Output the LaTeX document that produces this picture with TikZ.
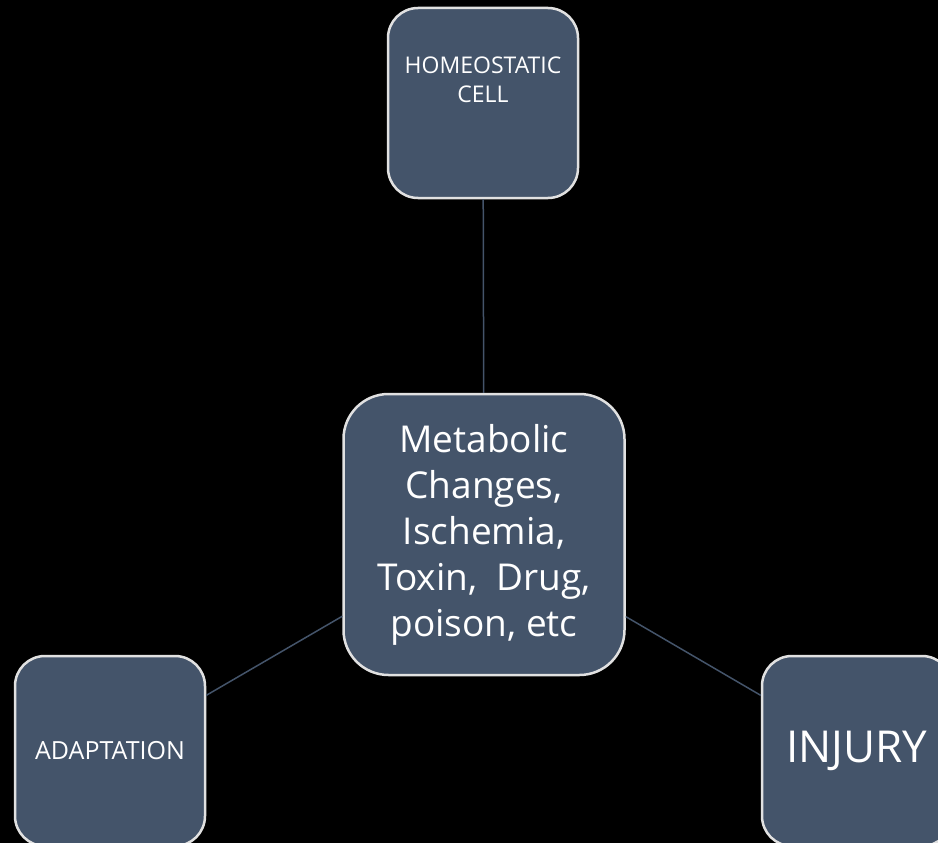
\documentclass[tikz,border=0pt]{standalone}
\usepackage{fontspec}
\setmainfont{Open Sans}
\usepackage{xcolor}
\definecolor{slateblue}{RGB}{68,84,106}
\definecolor{rimgray}{RGB}{225,225,225}

\begin{document}
\begin{tikzpicture}[x=1pt,y=-1pt]
			\tikzstyle{cellbox} = [rectangle,rounded corners=30pt,fill=slateblue,draw=rimgray,line width=2.5pt,text=white,align=center,inner sep=0pt]
			\tikzstyle{bigbox} = [cellbox,rounded corners=45pt]
			\tikzstyle{boxtext} = [text=white,align=center,inner sep=0pt]
			\tikzstyle{edge} = [-,draw=slateblue,line width=1.5pt]
			\clip (0,0) rectangle (938,843);
			\fill[black] (0,0) rectangle (938,843);
			\node[cellbox,minimum size=190pt] (home) at (483,103) {};
			\node[boxtext,anchor=north,font=\fontsize{23}{29}\selectfont] (hometext) at ([yshift=-50pt]home.north) {HOMEOSTATIC\\CELL};
			\node[bigbox,minimum size=281pt,font=\fontsize{37}{46}\selectfont] (stress) at (484,534.5) {Metabolic\\Changes,\\Ischemia,\\Toxin,\ \ Drug,\\poison, etc};
			\node[cellbox,minimum size=190pt,font=\fontsize{25}{29}\selectfont] (adapt) at (110,751) {ADAPTATION};
			\node[cellbox,minimum size=190pt,font=\fontsize{44}{60}\selectfont] (injury) at (857,751) {INJURY};
			\draw[edge] (home)--(stress);
			\draw[edge] (stress)--(adapt);
			\draw[edge] (stress)--(injury);
\end{tikzpicture}
\end{document}
